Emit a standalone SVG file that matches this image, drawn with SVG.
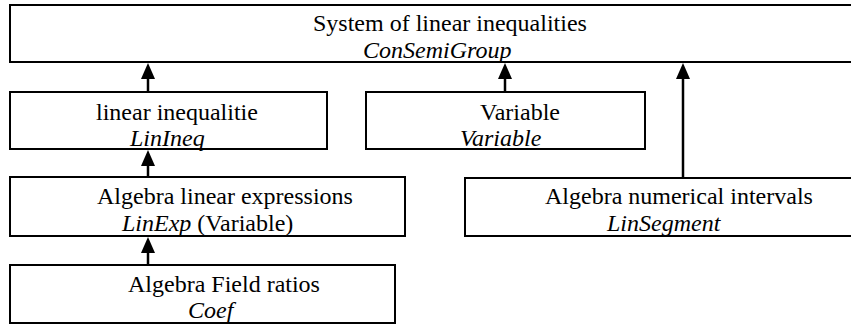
<svg xmlns="http://www.w3.org/2000/svg" width="851" height="324" viewBox="0 0 851 324">
<style>
.box{fill:#fff;stroke:#000;stroke-width:2}
.t{font-family:"Liberation Serif","Times New Roman",serif;font-size:24px;fill:#000}
.i{font-style:italic}
.c{stroke:#000;stroke-width:2.5;fill:none}
</style>
<defs>
<marker id="ah" viewBox="0 0 16 14" refX="0" refY="7" markerWidth="16" markerHeight="14" markerUnits="userSpaceOnUse" orient="auto">
<path d="M0,0 L16,7 L0,14 Z" fill="#000"/>
</marker>
</defs>
<rect x="0" y="0" width="851" height="324" fill="#fff"/>
<g id="node-system">
<rect class="box" x="10" y="5" width="850" height="57"/>
<text class="t" x="313" y="31">System of linear inequalities</text>
<text class="t i" x="363" y="58">ConSemiGroup</text>
</g>
<g id="node-linineq">
<rect class="box" x="10" y="92" width="317" height="57"/>
<text class="t" x="96" y="120">linear inequalitie</text>
<text class="t i" x="130" y="146">LinIneq</text>
</g>
<g id="node-variable">
<rect class="box" x="366" y="92" width="279" height="57"/>
<text class="t" x="480" y="120">Variable</text>
<text class="t i" x="460" y="146">Variable</text>
</g>
<g id="node-linexp">
<rect class="box" x="10" y="177" width="395" height="59"/>
<text class="t" x="97" y="204">Algebra linear expressions</text>
<text class="t" x="122" y="231"><tspan class="i">LinExp</tspan> (Variable)</text>
</g>
<g id="node-linsegment">
<rect class="box" x="465" y="178" width="400" height="58"/>
<text class="t" x="545" y="204">Algebra numerical intervals</text>
<text class="t i" x="607" y="231">LinSegment</text>
</g>
<g id="node-coef">
<rect class="box" x="10" y="265" width="385" height="58"/>
<text class="t" x="128" y="292">Algebra Field ratios</text>
<text class="t i" x="188" y="318">Coef</text>
</g>
<g id="connectors">
<line class="c" x1="148" y1="92" x2="148" y2="79" marker-end="url(#ah)"/>
<line class="c" x1="505" y1="92" x2="505" y2="79" marker-end="url(#ah)"/>
<line class="c" x1="683" y1="178" x2="683" y2="79" marker-end="url(#ah)"/>
<line class="c" x1="148" y1="177" x2="148" y2="166" marker-end="url(#ah)"/>
<line class="c" x1="148" y1="265" x2="148" y2="253" marker-end="url(#ah)"/>
</g>
</svg>
